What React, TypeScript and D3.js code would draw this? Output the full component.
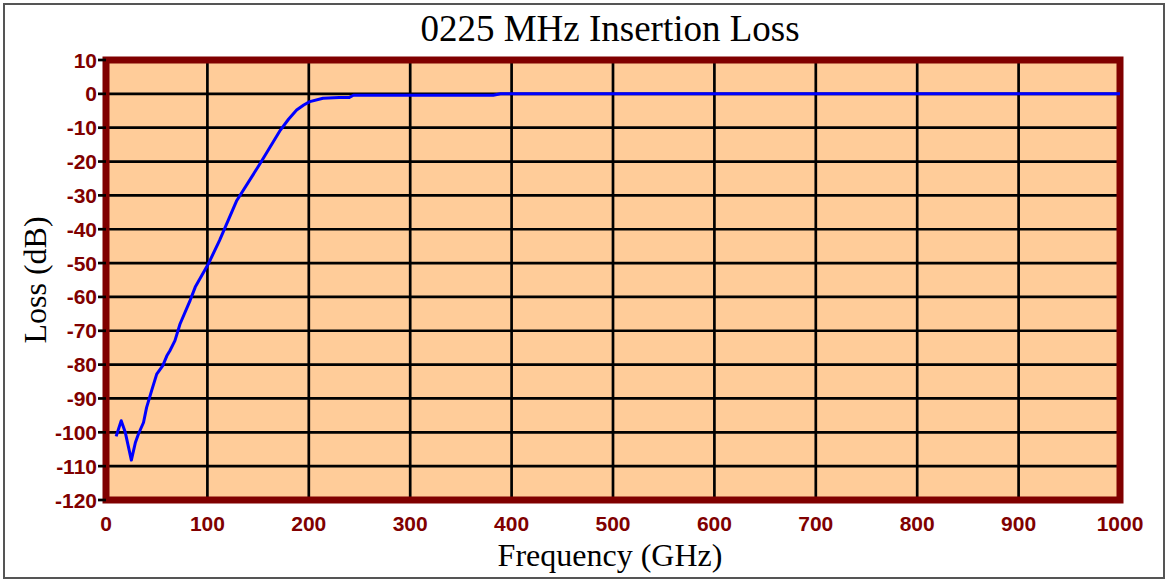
import React from 'react';
import * as d3 from 'd3';

const frequency = [10, 15, 19, 25, 29, 32, 37, 40, 45, 50, 56, 60, 63, 68, 73, 83, 88, 101, 112, 129, 152, 172, 180, 188, 195, 201, 214, 230, 240, 244, 300, 350, 382, 389, 400, 500, 600, 700, 800, 900, 1000];
const loss = [-101.2, -96.6, -100, -108.2, -103, -100.5, -97.1, -92.7, -87.7, -82.8, -80.3, -77.4, -75.9, -72.9, -68, -61, -57.1, -50.2, -43.3, -31.5, -20.6, -10.7, -7.5, -4.8, -3.3, -2.3, -1.3, -1.1, -1.05, -0.4, -0.4, -0.4, -0.4, 0, 0, 0, 0, 0, 0, 0, 0];

const xTicks = [0, 100, 200, 300, 400, 500, 600, 700, 800, 900, 1000];
const yTicks = [10, 0, -10, -20, -30, -40, -50, -60, -70, -80, -90, -100, -110, -120];

const title = '0225 MHz Insertion Loss';
const xLabel = 'Frequency (GHz)';
const yLabel = 'Loss (dB)';

export default function App() {
  const width = 1167;
  const height = 580;
  const margin = { top: 60, right: 47, bottom: 80, left: 106 };

  const x = d3.scaleLinear().domain([0, 1000]).range([margin.left, width - margin.right]);
  const y = d3.scaleLinear().domain([-120, 10]).range([height - margin.bottom, margin.top]);

  const points = frequency.map((f, i) => ({ f, v: loss[i] }));
  const line = d3
    .line<{ f: number; v: number }>()
    .x((d) => x(d.f))
    .y((d) => y(d.v));

  const maroon = '#800000';
  const tickFont = '"Liberation Sans", Arial, sans-serif';
  const serif = '"Liberation Serif", "Times New Roman", serif';

  return (
    <div style={{ position: 'absolute', left: 0, top: 0 }}>
      <svg width={width} height={height} style={{ display: 'block', background: '#fff' }}>
        {/* outer frame */}
        <rect x={4} y={4} width={1160} height={574} fill="#fff" stroke="#555" strokeWidth={2} />

        <text x={610} y={41} textAnchor="middle" fontFamily={serif} fontSize={37} fill="#000">
          {title}
        </text>

        {/* plot area */}
        <rect
          x={x(0)}
          y={y(10)}
          width={x(1000) - x(0)}
          height={y(-120) - y(10)}
          fill="#FFCC99"
        />

        {/* horizontal grid */}
        {yTicks
          .filter((t) => t < 10 && t > -120)
          .map((t) => (
            <line key={`h${t}`} x1={x(0)} x2={x(1000)} y1={y(t)} y2={y(t)} stroke="#000" strokeWidth={2.7} />
          ))}
        {/* vertical grid */}
        {xTicks
          .filter((t) => t > 0 && t < 1000)
          .map((t) => (
            <line key={`v${t}`} x1={x(t)} x2={x(t)} y1={y(10)} y2={y(-120)} stroke="#000" strokeWidth={2.7} />
          ))}

        {/* border */}
        <rect
          x={x(0)}
          y={y(10)}
          width={x(1000) - x(0)}
          height={y(-120) - y(10)}
          fill="none"
          stroke={maroon}
          strokeWidth={7}
        />

        {/* y ticks */}
        {yTicks.map((t) => (
          <g key={`yt${t}`}>
            <line x1={x(0) - 8} x2={x(0)} y1={y(t)} y2={y(t)} stroke="#000" strokeWidth={2.7} />
            <text
              x={x(0) - 9}
              y={y(t)}
              dy="0.36em"
              textAnchor="end"
              fontFamily={tickFont}
              fontWeight="bold"
              fontSize={21}
              fill={maroon}
            >
              {t}
            </text>
          </g>
        ))}

        {/* x tick labels */}
        {xTicks.map((t) => (
          <text
            key={`xt${t}`}
            x={x(t)}
            y={531}
            textAnchor="middle"
            fontFamily={tickFont}
            fontWeight="bold"
            fontSize={21}
            fill={maroon}
          >
            {t}
          </text>
        ))}

        {/* data */}
        <path d={line(points) ?? ''} fill="none" stroke="#0000FF" strokeWidth={3} strokeLinejoin="round" />

        <text x={610} y={566} textAnchor="middle" fontFamily={serif} fontSize={32} fill="#000">
          {xLabel}
        </text>
        <text
          transform={`translate(46,${(y(10) + y(-120)) / 2}) rotate(-90)`}
          textAnchor="middle"
          fontFamily={serif}
          fontSize={32}
          fill="#000"
        >
          {yLabel}
        </text>
      </svg>
    </div>
  );
}
